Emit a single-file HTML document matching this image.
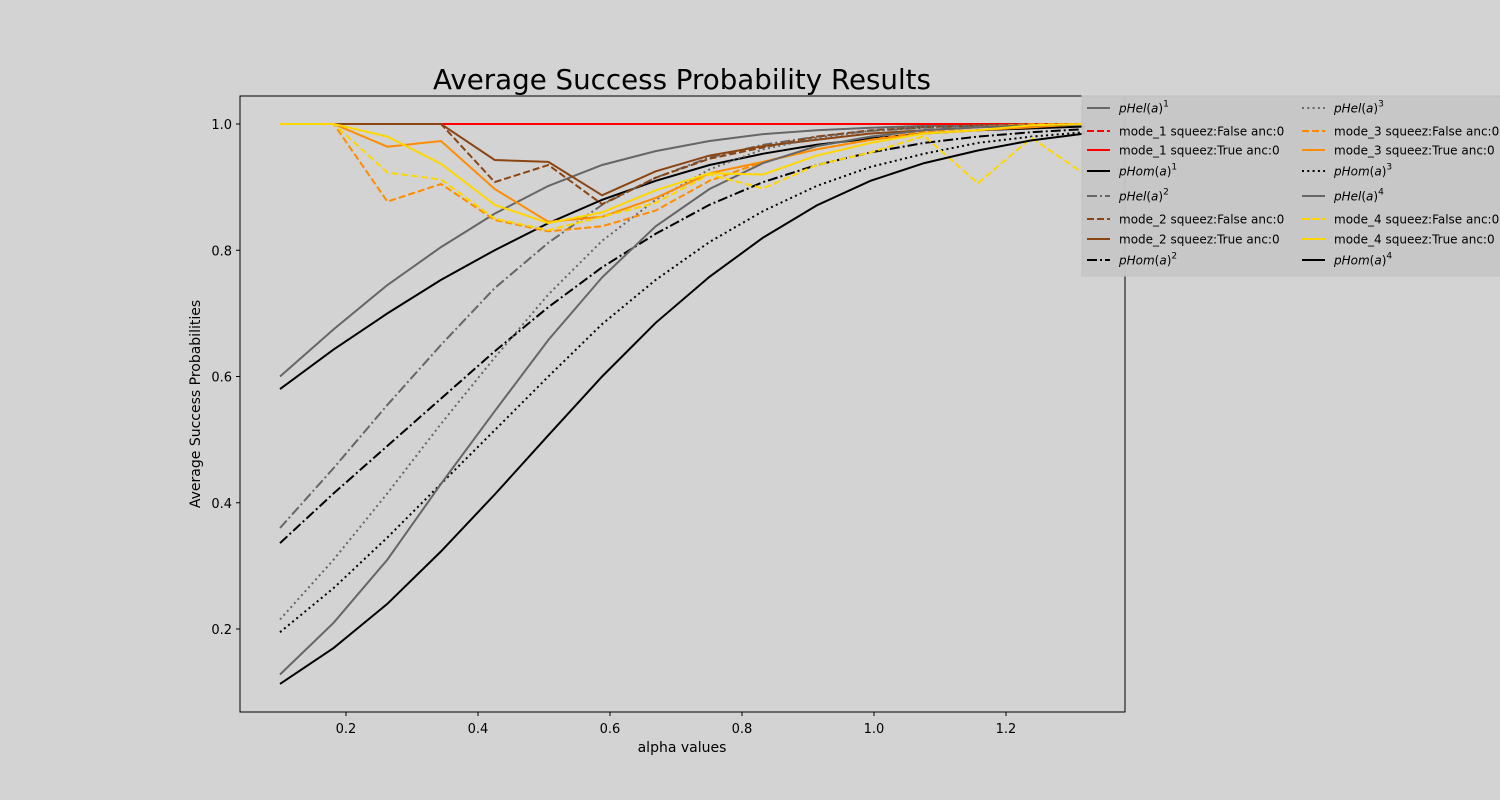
<!DOCTYPE html>
<html><head><meta charset="utf-8"><style>
body{margin:0;background:#d3d3d3;}
svg{display:block;font-family:"DejaVu Sans","Liberation Sans",sans-serif;}
</style></head><body>
<svg id="chart" width="1500" height="800">
<rect width="1500" height="800" fill="#d3d3d3"/>
<text x="682" y="89" font-size="27.7" text-anchor="middle">Average Success Probability Results</text>
<text x="682" y="752" font-size="14" text-anchor="middle">alpha values</text>
<text transform="translate(200,404) rotate(-90)" font-size="14" text-anchor="middle">Average Success Probabilities</text>
<g id="ticks"></g>
<clipPath id="pc"><rect x="240" y="96" width="885" height="616"/></clipPath>
<g id="lines" clip-path="url(#pc)"></g>
<rect x="240" y="96" width="885" height="616" fill="none" stroke="#000" stroke-width="1"/>
<g id="legend"></g>
</svg>
<script>
const xs=[0.1,0.1813,0.2627,0.344,0.4253,0.5067,0.588,0.6693,0.7507,0.832,0.9133,0.9947,1.076,1.1573,1.2387,1.32];
const pHel1=[0.6,0.675,0.745,0.805,0.858,0.902,0.935,0.957,0.973,0.984,0.99,0.994,0.997,0.998,0.999,1.0];
const pHom1=[0.58,0.643,0.70,0.753,0.80,0.843,0.88,0.91,0.935,0.953,0.967,0.977,0.985,0.99,0.993,0.996];
const pHel2=[0.36,0.455,0.555,0.65,0.74,0.812,0.872,0.915,0.947,0.967,0.98,0.989,0.994,0.997,0.998,0.999];
const pHom2=[0.336,0.415,0.49,0.565,0.64,0.71,0.773,0.826,0.872,0.908,0.935,0.955,0.97,0.98,0.987,0.992];
const pHel3=[0.215,0.31,0.415,0.525,0.63,0.73,0.815,0.88,0.928,0.96,0.978,0.989,0.995,0.998,0.999,1.0];
const pHom3=[0.195,0.265,0.345,0.43,0.515,0.6,0.683,0.753,0.813,0.862,0.902,0.932,0.953,0.97,0.98,0.987];
const pHel4=[0.128,0.21,0.31,0.43,0.545,0.658,0.757,0.838,0.897,0.938,0.965,0.98,0.99,0.995,0.998,0.999];
const pHom4=[0.113,0.17,0.24,0.323,0.413,0.507,0.6,0.685,0.758,0.82,0.871,0.91,0.938,0.958,0.974,0.985];
const m1F=[1,1,1,1,1,1,1,1,1,1,1,1,1,1,1,1];
const m1T=[1,1,1,1,1,1,1,1,1,1,1,1,1,1,1,1];
const m2F=[1,1,1,1,0.908,0.935,0.873,0.915,0.945,0.963,0.98,0.99,0.995,0.998,1,1];
const m2T=[1,1,1,1,0.943,0.94,0.887,0.925,0.95,0.965,0.975,0.985,0.99,0.995,0.998,1];
const m3F=[1,1,0.877,0.905,0.848,0.83,0.838,0.863,0.91,0.94,0.96,0.975,0.988,0.995,1,1];
const m3T=[1,1,0.964,0.973,0.897,0.845,0.853,0.883,0.922,0.94,0.96,0.975,0.985,0.99,0.995,1];
const m4F=[1,1,0.923,0.912,0.85,0.832,0.853,0.875,0.92,0.898,0.935,0.955,0.981,0.906,0.978,0.92];
const m4T=[1,1,0.98,0.937,0.872,0.843,0.86,0.895,0.922,0.92,0.95,0.97,0.985,0.99,0.998,1];
const xTicks=[0.2,0.4,0.6,0.8,1.0,1.2];
const yTicks=[0.2,0.4,0.6,0.8,1.0];
const X=v=>280+(v-0.1)*660;
const Y=v=>124+(1-v)*631.25;
const NS="http://www.w3.org/2000/svg";
function mk(t,a,p){const e=document.createElementNS(NS,t);for(const k in a)e.setAttribute(k,a[k]);p.appendChild(e);return e;}
const tg=document.getElementById('ticks');
xTicks.forEach(t=>{const x=X(t);
 const l=mk('line',{x1:x,x2:x,y1:712,y2:716,stroke:'#000'},tg);
 
 
 const tx=mk('text',{x:x,y:733,'font-size':13,'text-anchor':'middle'},tg);tx.textContent=t.toFixed(1);
 
 });
yTicks.forEach(t=>{const y=Y(t);
 const l=mk('line',{x1:236,x2:240,y1:y,y2:y,stroke:'#000'},tg);
 
 
 const tx=mk('text',{x:232,y:y+5,'font-size':13,'text-anchor':'end'},tg);tx.textContent=t.toFixed(1);
 
 });
const DASH='7,3',DOT='2,3.3',DD='10,3,2,3';
const series=[
 [pHel1,'#666','',1,'pHel1','<tspan font-style="italic">pHel</tspan>(<tspan font-style="italic">a</tspan>)<tspan dy="-6" font-size="9">1</tspan>'],
 [m1F,'#ff0000',DASH,0,'mode1-false','mode_1 squeez:False anc:0'],
 [m1T,'#ff0000','',0,'mode1-true','mode_1 squeez:True anc:0'],
 [pHom1,'#000','',1,'pHom1','<tspan font-style="italic">pHom</tspan>(<tspan font-style="italic">a</tspan>)<tspan dy="-6" font-size="9">1</tspan>'],
 [pHel2,'#666',DD,1,'pHel2','<tspan font-style="italic">pHel</tspan>(<tspan font-style="italic">a</tspan>)<tspan dy="-6" font-size="9">2</tspan>'],
 [m2F,'#8b4513',DASH,0,'mode2-false','mode_2 squeez:False anc:0'],
 [m2T,'#8b4513','',0,'mode2-true','mode_2 squeez:True anc:0'],
 [pHom2,'#000',DD,1,'pHom2','<tspan font-style="italic">pHom</tspan>(<tspan font-style="italic">a</tspan>)<tspan dy="-6" font-size="9">2</tspan>'],
 [pHel3,'#666',DOT,1,'pHel3','<tspan font-style="italic">pHel</tspan>(<tspan font-style="italic">a</tspan>)<tspan dy="-6" font-size="9">3</tspan>'],
 [m3F,'#ff8c00',DASH,0,'mode3-false','mode_3 squeez:False anc:0'],
 [m3T,'#ff8c00','',0,'mode3-true','mode_3 squeez:True anc:0'],
 [pHom3,'#000',DOT,1,'pHom3','<tspan font-style="italic">pHom</tspan>(<tspan font-style="italic">a</tspan>)<tspan dy="-6" font-size="9">3</tspan>'],
 [pHel4,'#666','',1,'pHel4','<tspan font-style="italic">pHel</tspan>(<tspan font-style="italic">a</tspan>)<tspan dy="-6" font-size="9">4</tspan>'],
 [m4F,'#ffd700',DASH,0,'mode4-false','mode_4 squeez:False anc:0'],
 [m4T,'#ffd700','',0,'mode4-true','mode_4 squeez:True anc:0'],
 [pHom4,'#000','',1,'pHom4','<tspan font-style="italic">pHom</tspan>(<tspan font-style="italic">a</tspan>)<tspan dy="-6" font-size="9">4</tspan>']
];
const lg=document.getElementById('lines');
series.forEach(s=>{
 const d=s[0].map((v,i)=>(i?'L':'M')+X(xs[i]).toFixed(1)+','+Y(v).toFixed(1)).join(' ');
 const p=mk('path',{d:d,fill:'none',stroke:s[1],'stroke-width':2,'stroke-dasharray':s[2]},lg);
 
 
});
const leg=document.getElementById('legend');
mk('rect',{x:1082,y:96,width:430,height:180,fill:'#c6c6c6','fill-opacity':0.95,stroke:'#c0c0c0'},leg);
const rowsY=[108,131,150,171,196,219,239,260];
series.forEach((s,i)=>{
 const col=Math.floor(i/8),row=i%8;
 const hx=col?1302:1087,y=rowsY[row];
 const l=mk('line',{x1:hx,x2:hx+23,y1:y,y2:y,stroke:s[1],'stroke-width':2,'stroke-dasharray':s[2]},leg);
 
 
 const t=mk('text',{x:hx+32,y:y+4.5,'font-size':12},leg);
 t.innerHTML=s[5];
 
 
});
</script>
</body></html>
